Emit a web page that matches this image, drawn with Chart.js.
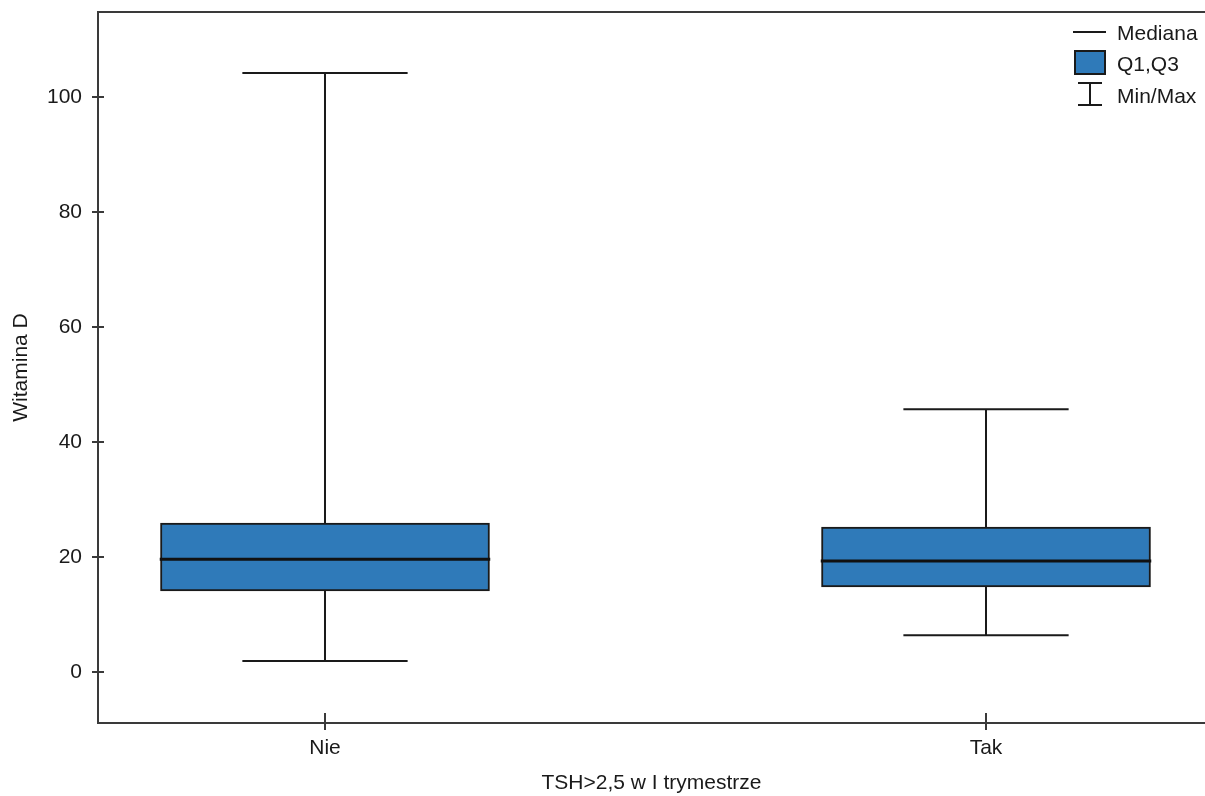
<!DOCTYPE html>
<html>
<head>
<meta charset="utf-8">
<script src="https://cdn.jsdelivr.net/npm/chart.js@4"></script>
<style>
  body { margin: 0; background: #fff; }
  #wrap { position: relative; width: 1205px; height: 796px; }
  .leg { position: absolute; font: 21px "Liberation Sans", Arial, sans-serif; color: #1a1a1a; }
  .ico { position: absolute; }
</style>
</head>
<body>
<div id="wrap">
  <canvas id="chart"></canvas>
  <div class="ico" style="left:1073px;top:31px;width:33px;height:2px;background:#1a1a1a"></div>
  <div class="leg" style="left:1117px;top:21px">Mediana</div>
  <div class="ico" style="left:1074px;top:50px;width:28px;height:21px;background:#2f7ab9;border:2px solid #1a1a1a"></div>
  <div class="leg" style="left:1117px;top:52px">Q1,Q3</div>
  <div class="ico" style="left:1078px;top:82px;width:24px;height:2px;background:#1a1a1a"></div>
  <div class="ico" style="left:1089px;top:82px;width:2px;height:24px;background:#1a1a1a"></div>
  <div class="ico" style="left:1078px;top:104px;width:24px;height:2px;background:#1a1a1a"></div>
  <div class="leg" style="left:1117px;top:84px">Min/Max</div>
</div>
<script>
const categories = ['Nie', 'Tak'];
const minValues = [1.9, 6.4];
const q1Values = [14.1, 14.8];
const medianValues = [19.6, 19.3];
const q3Values = [25.9, 25.2];
const maxValues = [104.2, 45.7];
const yTicks = [0, 20, 40, 60, 80, 100];

const boxHalf = 0.25;
const capHalf = 0.125;
const ink = '#1a1a1a';
const axisColor = '#3a3a3a';

// build segment lists, null point breaks the line
function segments(fn) {
    const pts = [];
    categories.forEach((c, i) => {
        fn(i).forEach(seg => {
            pts.push(seg[0], seg[1], { x: null, y: null });
        });
    });
    return pts;
}

const boxData = categories.map((c, i) => ({ x: i, y: [q1Values[i], q3Values[i]] }));
const medianData = segments(i => [[{ x: i - boxHalf, y: medianValues[i] }, { x: i + boxHalf, y: medianValues[i] }]]);
const whiskerData = segments(i => [
    [{ x: i, y: minValues[i] }, { x: i, y: q1Values[i] }],
    [{ x: i, y: q3Values[i] }, { x: i, y: maxValues[i] }],
    [{ x: i - capHalf, y: minValues[i] }, { x: i + capHalf, y: minValues[i] }],
    [{ x: i - capHalf, y: maxValues[i] }, { x: i + capHalf, y: maxValues[i] }]
]);

// ticks crossing into the plot area
const innerTicks = {
    id: 'innerTicks',
    afterDraw(chart) {
        const ctx = chart.ctx;
        const x = chart.scales.x, y = chart.scales.y;
        ctx.save();
        ctx.strokeStyle = axisColor;
        ctx.lineWidth = 2;
        y.ticks.forEach(t => {
            const py = Math.round(y.getPixelForValue(t.value));
            ctx.beginPath();
            ctx.moveTo(chart.chartArea.left, py);
            ctx.lineTo(chart.chartArea.left + 6, py);
            ctx.stroke();
        });
        x.ticks.forEach(t => {
            const px = Math.round(x.getPixelForValue(t.value));
            ctx.beginPath();
            ctx.moveTo(px, chart.chartArea.bottom);
            ctx.lineTo(px, chart.chartArea.bottom - 10);
            ctx.stroke();
        });
        ctx.restore();
    }
};

const font = { family: '"Liberation Sans", Arial, sans-serif', size: 21 };

new Chart(document.getElementById('chart'), {
    data: {
        datasets: [
            {
                type: 'bar',
                data: boxData,
                backgroundColor: '#2f7ab9',
                borderColor: ink,
                borderWidth: 2,
                borderSkipped: false,
                barThickness: 329,
                order: 3
            },
            {
                type: 'line',
                data: whiskerData,
                borderColor: ink,
                borderWidth: 2,
                pointRadius: 0,
                spanGaps: false,
                fill: false,
                order: 2
            },
            {
                type: 'line',
                data: medianData,
                borderColor: '#111',
                borderWidth: 3,
                pointRadius: 0,
                spanGaps: false,
                fill: false,
                order: 1
            }
        ]
    },
    options: {
        responsive: true,
        maintainAspectRatio: false,
        animation: false,
        layout: { padding: 0 },
        plugins: { legend: { display: false }, tooltip: { enabled: false } },
        scales: {
            x: {
                type: 'linear',
                position: 'bottom',
                offset: false,
                min: -0.3434,
                max: 1.3313,
                afterBuildTicks: s => { s.ticks = categories.map((c, i) => ({ value: i })); },
                afterFit: s => { s.height = 73; s.paddingLeft = 0; s.paddingRight = 0; },
                ticks: {
                    callback: v => categories[v],
                    color: ink,
                    font: font,
                    padding: 6,
                    maxRotation: 0
                },
                grid: { offset: false, drawOnChartArea: false, drawTicks: true, tickLength: 7, color: axisColor, lineWidth: 2 },
                border: { display: true, color: axisColor, width: 2 },
                title: { display: true, text: 'TSH>2,5 w I trymestrze', color: ink, font: font, padding: { top: 0, bottom: 0 } }
            },
            x2: {
                type: 'linear',
                position: 'top',
                afterFit: s => { s.height = 12; },
                ticks: { display: false },
                grid: { display: false, drawTicks: false },
                border: { display: true, color: axisColor, width: 2 }
            },
            y: {
                type: 'linear',
                position: 'left',
                min: -8.87,
                max: 114.8,
                afterBuildTicks: s => { s.ticks = yTicks.map(v => ({ value: v })); },
                afterFit: s => { s.width = 98; s.paddingTop = 0; s.paddingBottom = 0; },
                ticks: { color: ink, font: font, padding: 10 },
                grid: { drawOnChartArea: false, drawTicks: true, tickLength: 6, color: axisColor, lineWidth: 2 },
                border: { display: true, color: axisColor, width: 2 },
                title: { display: true, text: 'Witamina D', color: ink, font: font, padding: { top: 9, bottom: 0 } }
            }
        }
    },
    plugins: [innerTicks]
});
</script>
</body>
</html>
